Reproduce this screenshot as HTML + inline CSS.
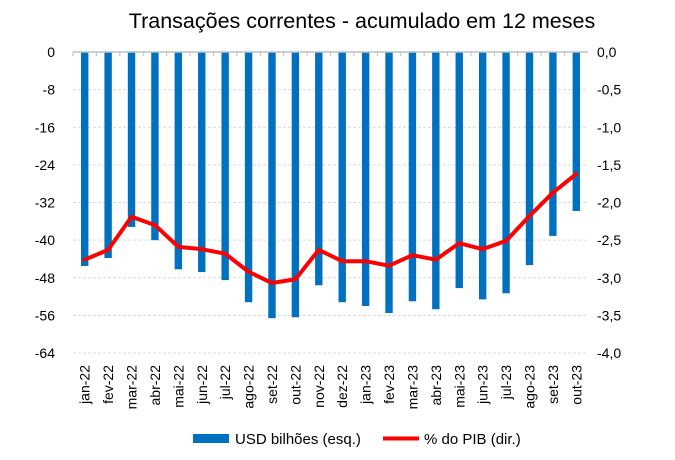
<!DOCTYPE html>
<html><head><meta charset="utf-8"><style>
body{margin:0;background:#fff;font-family:"Liberation Sans",Calibri,sans-serif}
</style></head><body>
<svg width="675" height="455" font-family="Liberation Sans, sans-serif">
<text x="362" y="28" text-anchor="middle" font-size="21.5" fill="#000">Transações correntes - acumulado em 12 meses</text>
<g id="grid"></g><g id="bars"></g><g id="axes"></g><g id="line"></g>
<g>
<rect x="193" y="434" width="36" height="9" fill="#0070C0"/>
<text x="235" y="444" font-size="15">USD bilhões (esq.)</text>
<line x1="383" y1="438.5" x2="419" y2="438.5" stroke="#FF0000" stroke-width="4"/>
<text x="424" y="444" font-size="15">% do PIB (dir.)</text>
</g>
</svg>
<script>
const categories=["jan-22","fev-22","mar-22","abr-22","mai-22","jun-22","jul-22","ago-22","set-22","out-22","nov-22","dez-22","jan-23","fev-23","mar-23","abr-23","mai-23","jun-23","jul-23","ago-23","set-23","out-23"];
const usdValues=[-45.5,-43.8,-37.2,-40,-46.2,-46.8,-48.5,-53.2,-56.6,-56.4,-49.6,-53.2,-54,-55.5,-53,-54.7,-50.2,-52.6,-51.3,-45.3,-39.1,-33.8];
const pibValues=[-2.76,-2.63,-2.19,-2.30,-2.59,-2.62,-2.68,-2.92,-3.07,-3.02,-2.63,-2.78,-2.78,-2.84,-2.70,-2.76,-2.54,-2.62,-2.51,-2.18,-1.87,-1.62];
const leftTicks=[0,-8,-16,-24,-32,-40,-48,-56,-64];
const rightTicks=["0,0","-0,5","-1,0","-1,5","-2,0","-2,5","-3,0","-3,5","-4,0"];
const NS="http://www.w3.org/2000/svg";
const X0=73,X1=588,Y0=52,Y1=353;
const bw=(X1-X0)/categories.length;
const yL=v=>Y0+(v/-64)*(Y1-Y0);
const yR=v=>Y0+(v/-4)*(Y1-Y0);
const xC=i=>X0+bw*(i+0.5);
function mk(t,a,p){const e=document.createElementNS(NS,t);for(const k in a)e.setAttribute(k,a[k]);p.appendChild(e);return e;}
const g=document.getElementById('grid'),b=document.getElementById('bars'),ax=document.getElementById('axes'),ln=document.getElementById('line');
leftTicks.forEach((v,i)=>{const y=yL(v);
 if(i>0){const l=mk('line',{x1:X0,x2:X1,y1:y,y2:y,stroke:'#d9d9d9','stroke-dasharray':'3,2'},g);
 
 }
 const t=mk('text',{x:55,y:y+5,'text-anchor':'end','font-size':14},ax);t.textContent=v;
 
 
 const r=mk('text',{x:597,y:y+5,'font-size':14},ax);r.textContent=rightTicks[i];
 
 
});
const axl=mk('line',{x1:X0,x2:X1,y1:Y0,y2:Y0,stroke:'#bfbfbf','stroke-width':1.5},ax);


categories.forEach((c,i)=>{
 const tk=mk('line',{x1:X0+bw*i,x2:X0+bw*i,y1:Y0,y2:Y0+4,stroke:'#bfbfbf'},ax);
 
 
 const v=usdValues[i];
 const r=mk('rect',{x:xC(i)-3.7,y:Y0,width:7.4,height:yL(v)-Y0,fill:'#0070C0'},b);
 
 
 const x=xC(i)+5,y=365;
 const t=mk('text',{x:x,y:y,'text-anchor':'end','font-size':14,transform:`rotate(-90 ${x} ${y})`},ax);t.textContent=c;
 
 
});
const pts=pibValues.map((v,i)=>xC(i)+','+yR(v)).join(' ');
const pl=mk('polyline',{points:pts,fill:'none',stroke:'#FF0000','stroke-width':4,'stroke-linejoin':'round','stroke-linecap':'round'},ln);


</script>
</body></html>
